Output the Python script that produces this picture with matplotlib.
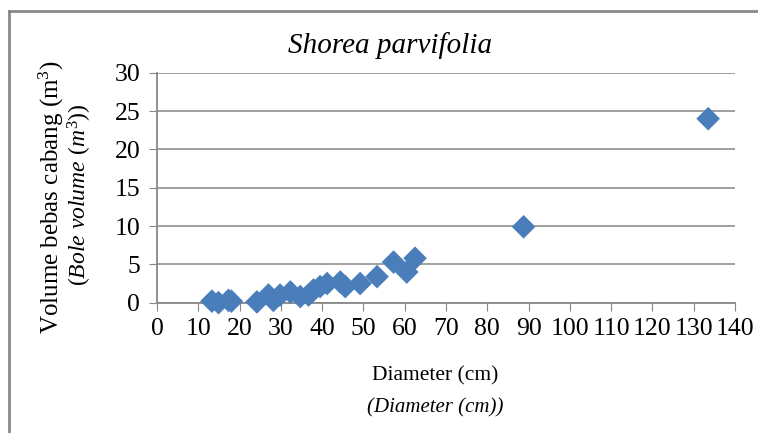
import matplotlib
matplotlib.use("Agg")
from matplotlib import pyplot as plt
from matplotlib.lines import Line2D

# diameter (cm) and bole volume (m3)
diameter = [13.3, 14.9, 17.3, 18.0, 24.2, 27.0, 28.2, 29.8, 32.3, 34.7, 36.7,
            37.9, 39.5, 41.2, 44.4, 45.6, 49.2, 53.3, 57.3, 60.5, 62.5, 88.8, 133.5]
volume = [0.2, 0.0, 0.3, 0.2, 0.1, 1.0, 0.3, 1.0, 1.4, 0.8, 1.0,
          1.65, 2.1, 2.5, 2.7, 2.1, 2.5, 3.4, 5.3, 4.0, 5.8, 9.9, 24.0]
x_ticks = list(range(0, 141, 10))
y_ticks = list(range(0, 31, 5))

plt.rcParams['font.family'] = ['Liberation Serif', 'DejaVu Serif']
plt.rcParams['mathtext.fontset'] = 'custom'
plt.rcParams['mathtext.rm'] = 'Liberation Serif'
plt.rcParams['mathtext.it'] = 'Liberation Serif:italic'

fig = plt.figure(figsize=(7.58, 4.33), dpi=100)
ax = fig.add_axes([157/758, 1-302.7/433, 578/758, 230/433])

ax.scatter(diameter, volume, marker='D', s=145, color='#4a7ebb',
           edgecolors='none', zorder=3, clip_on=False)

ax.set_xlim(0, 140)
ax.set_ylim(0, 30)
ax.set_xticks(x_ticks)
ax.set_yticks(y_ticks)
ax.tick_params(axis='both', labelsize=18.5, colors='#888888', length=6,
               labelcolor='black')
ax.tick_params(axis='y', pad=6)
ax.tick_params(axis='x', pad=5)
ax.grid(axis='y', color='#999999', linewidth=1.3)
ax.set_axisbelow(True)
for side in ['top', 'right']:
    ax.spines[side].set_visible(False)
for side in ['left', 'bottom']:
    ax.spines[side].set_color('#888888')
    ax.spines[side].set_linewidth(1.3)

fig.text(390/758, 1-46/433, 'Shorea parvifolia', style='italic',
         fontsize=21, ha='center', va='center')
fig.text(51/758, 1-197/433, 'Volume bebas cabang (m$^3$)', rotation=90,
         fontsize=18, ha='center', va='center')
fig.text(80/758, 1-195/433, '($Bole$ $volume$ ($m^3$))', rotation=90,
         fontsize=17, ha='center', va='center')
fig.text(435/758, 1-376/433, 'Diameter (cm)', fontsize=15.5,
         ha='center', va='center')
fig.text(435/758, 1-408/433, '(Diameter (cm))', style='italic', fontsize=15,
         ha='center', va='center')

# frame lines on the top and left edge of the picture
fig.add_artist(Line2D([9/758, 1], [1-11/433, 1-11/433], color='#888888',
                      linewidth=2, transform=fig.transFigure))
fig.add_artist(Line2D([9/758, 9/758], [0, 1-11/433], color='#888888',
                      linewidth=2, transform=fig.transFigure))

fig.savefig('out.png', dpi=100)
